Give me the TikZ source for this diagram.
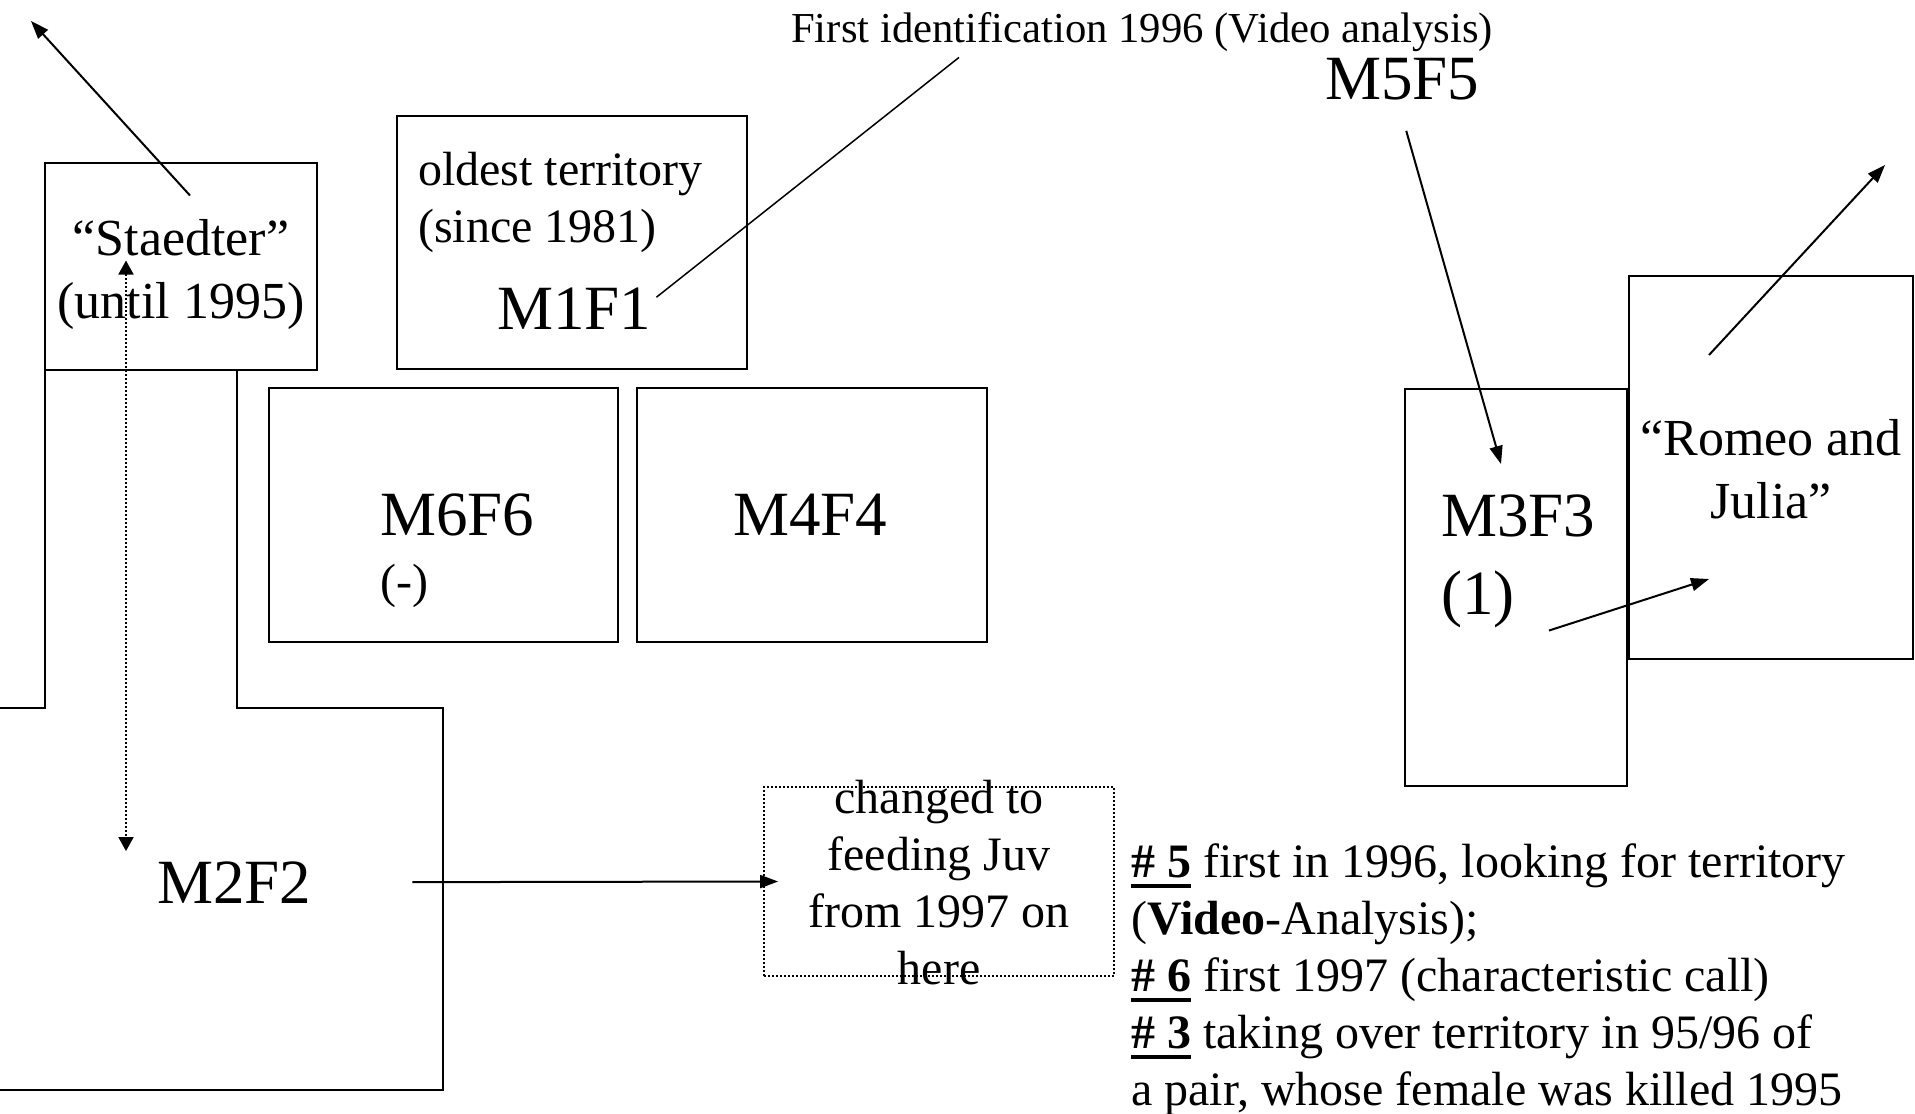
\documentclass[tikz,border=0pt]{standalone}
\usepackage{fontspec}
\setmainfont{Liberation Serif}
\usetikzlibrary{arrows.meta}

\newcommand{\pairfont}{\fontsize{63}{78}\selectfont}
\newcommand{\namefont}{\fontsize{52}{63}\selectfont}
\newcommand{\notefont}{\fontsize{48}{57}\selectfont}
\newcommand{\idfont}{\fontsize{42.7}{50}\selectfont}
\newsavebox{\numbox}
\newcommand{\ulnum}[1]{\sbox{\numbox}{\textbf{#1}}\rlap{\rule[-11pt]{\wd\numbox}{4pt}}\usebox{\numbox}}

\begin{document}
\begin{tikzpicture}[x=1pt, y=-1pt,
    wall/.style={line width=2.4pt},
    link/.style={line width=2pt, -{Triangle[length=18pt, width=13pt]}},
    trace/.style={line width=1.8pt, dash pattern=on 1.8pt off 2.2pt,
        {Triangle[length=14pt, width=15pt]}-{Triangle[length=14pt, width=15pt]}},
    txt/.style={inner sep=0pt, anchor=base west},
    block/.style={inner sep=0pt, align=left, anchor=north west}]

    \useasboundingbox (0,0) rectangle (1915,1114);

    %% Territories
    % Staedter, later M2F2
    \draw[wall] (45,163) rectangle (317,370);
    \draw[wall] (0,708) -- (45,708) -- (45,370);
    \draw[wall] (237,370) -- (237,708) -- (443,708) -- (443,1090) -- (0,1090);

    % M1F1, M6F6, M4F4
    \draw[wall] (397,116) rectangle (747,369);
    \draw[wall] (269,388) rectangle (618,642);
    \draw[wall] (637,388) rectangle (987,642);

    % M3F3 and Romeo and Julia
    \draw[wall] (1405,389) rectangle (1627,786);
    \draw[wall] (1629,276) rectangle (1913,659);

    % Feeding place
    \node[draw, line width=1.8pt, dash pattern=on 1.8pt off 2.2pt, inner sep=0pt,
        minimum width=350pt, minimum height=189pt] (changedbox) at (939,881.5) {};

    %% Labels
    \node[txt, font=\idfont] (firstid) at (791,42) {First identification 1996 (Video analysis)};
    \node[txt, font=\pairfont] (m5f5) at (1325,99) {M5F5};
    \node[block, font=\notefont] (oldest) at (418,152) {oldest territory\\(since 1981)};
    \node[txt, font=\pairfont] (m1f1) at (497,329) {M1F1};
    \node[inner sep=0pt, align=center, anchor=north, font=\namefont] (staedter) at (181,219.5)
        {“Staedter”\\(until 1995)};
    \node[txt, font=\pairfont] (m6f6) at (380,535) {M6F6};
    \node[txt, font=\notefont] (m6f6note) at (380,597) {(-)};
    \node[txt, font=\pairfont] (m4f4) at (733,535) {M4F4};
    \node[txt, font=\pairfont] (m2f2) at (157,903) {M2F2};
    \node[inner sep=0pt, align=center, anchor=north, font=\notefont] (changed) at (939,780)
        {changed to\\feeding Juv\\from 1997 on\\here};
    \node[block, font=\pairfont] (m3f3) at (1441,495) {M3F3\\(1)};
    \node[inner sep=0pt, align=center, anchor=north, font=\namefont] (romeo) at (1771,419)
        {“Romeo and\\Julia”};
    \node[block, font=\notefont] (notes) at (1131,843)
        {\ulnum{\# 5} first in 1996, looking for territory\\
         (\textbf{Video}-Analysis);\\
         \ulnum{\# 6} first 1997 (characteristic call)\\
         \ulnum{\# 3} taking over territory in 95/96 of\\
         a pair, whose female was killed 1995};

    %% Movements
    \coordinate (staedterto) at (31,21);
    \coordinate (romeoto) at (1885,165);
    \draw[link] ([xshift=9pt, yshift=24pt]staedter.north) -- (staedterto);
    \draw[trace] ([xshift=-55pt, yshift=-41pt]staedter.north) -- ([xshift=-31pt, yshift=10pt]m2f2.north west);
    \draw[line width=1.5pt] ([xshift=5pt, yshift=11pt]m1f1.east) -- ([xshift=168pt, yshift=-6pt]firstid.south west);
    \draw[link] ([xshift=4pt, yshift=-31pt]m5f5.south) -- ([xshift=60pt, yshift=31pt]m3f3.north west);
    \draw[link] ([xshift=-62pt, yshift=64pt]romeo.north) -- (romeoto);
    \draw[link] ([xshift=108pt, yshift=-2pt]m3f3.south west) -- ([xshift=-62pt, yshift=-60pt]romeo.south);
    \draw[link] ([xshift=101pt]m2f2.east) -- ([xshift=15pt]changedbox.west);

\end{tikzpicture}
\end{document}
